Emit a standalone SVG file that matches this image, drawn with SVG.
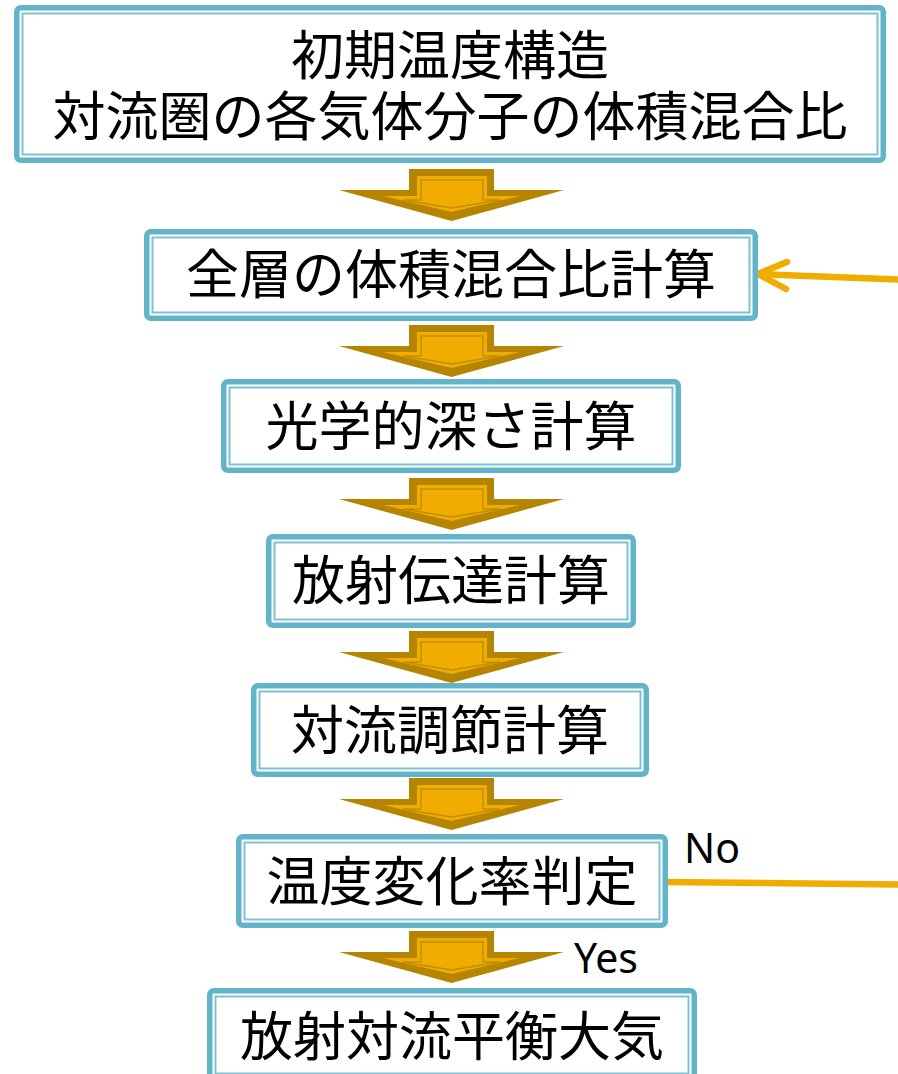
<svg xmlns="http://www.w3.org/2000/svg" width="898" height="1074" viewBox="0 0 898 1074">
<defs>
<style>
.outer{fill:#fff;stroke:#62B4CB;stroke-width:5.5}
.inner{fill:none;stroke:#7CC1D4;stroke-width:2}
.t{font-family:"Noto Sans CJK JP","Noto Sans",sans-serif;font-size:53px;fill:#000;text-anchor:middle}
.lbl{font-family:"Noto Sans","Noto Sans CJK JP",sans-serif;font-size:41px;fill:#000}
.a1{fill:#B58400}
.a2{fill:#F0AC00}
.a3{fill:#F0AC00;stroke:#C28E00;stroke-width:1.5}
.link{fill:none;stroke:#F0AC00;stroke-width:6.5;stroke-linecap:round;stroke-linejoin:round}
</style>
<g id="bigArrow">
<polygon class="a1" points="409,0 494,0 494,21 564,21 451.5,52 339,21 409,21"/>
<polygon class="a2" points="417,7 487,7 487,27 520,27 451.5,43 383,27 417,27"/>
<polygon class="a3" points="421,11 483,11 483,31 500,31 451.5,39 403,31 421,31"/>
</g>
</defs>

<g id="connectors">
<use href="#bigArrow" y="169"/>
<use href="#bigArrow" y="325"/>
<use href="#bigArrow" y="478"/>
<use href="#bigArrow" y="631"/>
<use href="#bigArrow" y="778"/>
<use href="#bigArrow" y="931"/>
<path class="link" d="M898,279.5 L758,274"/>
<path class="link" d="M787,262 L758,274 L786,289" stroke-width="8"/>
<path class="link" d="M662,882 L898,884.5"/>
<text class="lbl" x="684" y="863">No</text>
<text class="lbl" x="574" y="973">Yes</text>
</g>

<g id="n1">
<rect class="outer" x="16.75" y="7.75" width="866.5" height="152.5" rx="4"/>
<rect class="inner" x="22.5" y="13.5" width="855" height="141"/>
<text class="t" x="450" y="75">初期温度構造<tspan x="450" y="136">対流圏の各気体分子の体積混合比</tspan></text>
</g>

<g id="n2">
<rect class="outer" x="146.75" y="231.75" width="608.5" height="86.5" rx="4"/>
<rect class="inner" x="152.5" y="237.5" width="597" height="75"/>
<text class="t" x="451" y="294">全層の体積混合比計算</text>
</g>

<g id="n3">
<rect class="outer" x="223.75" y="381.75" width="454.5" height="88.5" rx="4"/>
<rect class="inner" x="229.5" y="387.5" width="443" height="77"/>
<text class="t" x="451" y="446">光学的深さ計算</text>
</g>

<g id="n4">
<rect class="outer" x="268.75" y="536.75" width="364.5" height="88.5" rx="4"/>
<rect class="inner" x="274.5" y="542.5" width="353" height="77"/>
<text class="t" x="451" y="600">放射伝達計算</text>
</g>

<g id="n5">
<rect class="outer" x="253.75" y="685.75" width="392.5" height="88.5" rx="4"/>
<rect class="inner" x="259.5" y="691.5" width="381" height="77"/>
<text class="t" x="450" y="750">対流調節計算</text>
</g>

<g id="n6">
<rect class="outer" x="238.75" y="836.75" width="426.5" height="88.5" rx="4"/>
<rect class="inner" x="244.5" y="842.5" width="415" height="77"/>
<text class="t" x="452" y="901">温度変化率判定</text>
</g>

<g id="n7">
<rect class="outer" x="209.75" y="990.75" width="484.5" height="88.5" rx="4"/>
<rect class="inner" x="215.5" y="996.5" width="473" height="77"/>
<text class="t" x="452" y="1056">放射対流平衡大気</text>
</g>
</svg>
